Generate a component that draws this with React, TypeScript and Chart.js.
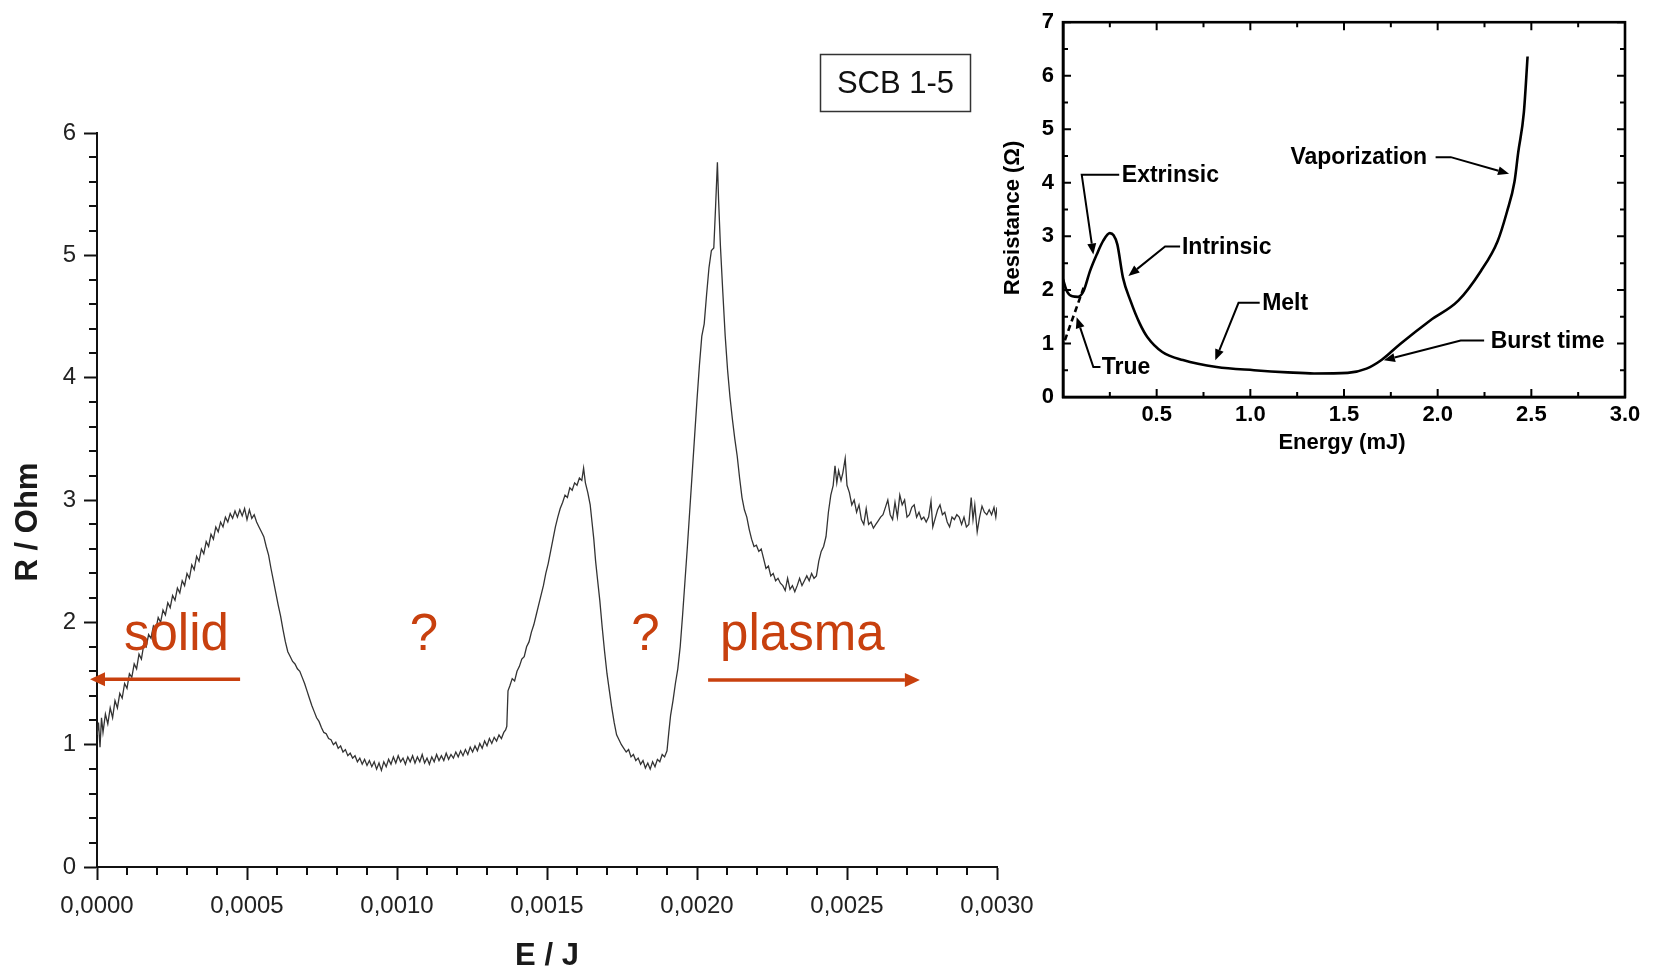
import React, { useEffect, useRef } from 'react';
import { Chart, registerables } from 'chart.js';

Chart.register(...registerables);

const FONT = "'Liberation Sans', Arial, Helvetica, sans-serif";
const RED = '#c8400e';

// ---------- Main chart data (E in µJ, R in Ohm) ----------
const E_UJ = [
  0, 5, 10, 15, 20, 28, 36, 44, 52, 60,
  68, 76, 84, 92, 100, 108, 116, 124, 132, 140,
  148, 156, 164, 172, 180, 188, 196, 204, 212, 220,
  228, 236, 244, 252, 260, 268, 276, 284, 292, 300,
  308, 316, 324, 332, 340, 348, 356, 364, 372, 380,
  388, 396, 404, 412, 420, 428, 436, 444, 452, 460,
  468, 476, 484, 492, 500, 508, 516, 524, 532, 540,
  548, 556, 564, 572, 580, 588, 596, 604, 612, 620,
  628, 636, 644, 652, 660, 668, 676, 684, 692, 700,
  708, 716, 724, 732, 740, 748, 756, 764, 772, 780,
  788, 796, 804, 812, 820, 828, 836, 844, 852, 860,
  868, 876, 884, 892, 900, 908, 916, 924, 932, 940,
  948, 956, 964, 972, 980, 988, 996, 1004, 1012, 1020,
  1028, 1036, 1044, 1052, 1060, 1068, 1076, 1084, 1092, 1100,
  1108, 1116, 1124, 1132, 1140, 1148, 1156, 1164, 1172, 1180,
  1188, 1196, 1204, 1212, 1220, 1228, 1236, 1244, 1252, 1260,
  1268, 1276, 1284, 1292, 1300, 1308, 1316, 1324, 1332, 1340,
  1348, 1356, 1362, 1366, 1370, 1376, 1384, 1392, 1400, 1408,
  1416, 1424, 1432, 1440, 1448, 1456, 1464, 1472, 1480, 1488,
  1496, 1504, 1512, 1520, 1528, 1536, 1544, 1552, 1560, 1568,
  1576, 1584, 1592, 1600, 1608, 1616, 1622, 1628, 1636, 1644,
  1650, 1656, 1662, 1668, 1676, 1684, 1692, 1700, 1708, 1716,
  1724, 1732, 1740, 1748, 1756, 1764, 1772, 1780, 1788, 1796,
  1804, 1812, 1820, 1828, 1836, 1844, 1852, 1860, 1868, 1876,
  1884, 1892, 1900, 1906, 1912, 1920, 1928, 1936, 1944, 1952,
  1960, 1968, 1976, 1984, 1992, 2000, 2008, 2016, 2024, 2032,
  2040, 2048, 2056, 2062, 2068, 2072, 2078, 2086, 2094, 2102,
  2110, 2118, 2126, 2134, 2142, 2150, 2158, 2166, 2174, 2182,
  2190, 2198, 2206, 2214, 2222, 2230, 2238, 2246, 2254, 2262,
  2270, 2278, 2286, 2294, 2302, 2310, 2318, 2326, 2334, 2342,
  2350, 2358, 2366, 2374, 2382, 2390, 2398, 2406, 2414, 2422,
  2430, 2438, 2446, 2454, 2460, 2466, 2472, 2480, 2486, 2494,
  2500, 2508, 2516, 2524, 2532, 2540, 2548, 2556, 2564, 2572,
  2580, 2588, 2596, 2604, 2612, 2620, 2628, 2636, 2644, 2652,
  2660, 2668, 2676, 2684, 2692, 2700, 2708, 2716, 2724, 2732,
  2740, 2748, 2756, 2764, 2772, 2780, 2786, 2794, 2802, 2810,
  2818, 2826, 2834, 2842, 2850, 2858, 2866, 2874, 2882, 2890,
  2898, 2906, 2914, 2920, 2926, 2934, 2942, 2950, 2958, 2966,
  2974, 2982, 2990, 2996, 3000,
];

const R_OHM = [
  1.08, 1.18, 0.98, 1.22, 1.10, 1.25, 1.17, 1.30, 1.22, 1.36,
  1.30, 1.42, 1.38, 1.50, 1.46, 1.58, 1.55, 1.66, 1.62, 1.74,
  1.70, 1.82, 1.80, 1.90, 1.87, 1.97, 1.94, 2.04, 2.00, 2.10,
  2.06, 2.16, 2.12, 2.22, 2.18, 2.28, 2.24, 2.34, 2.30, 2.40,
  2.36, 2.47, 2.43, 2.54, 2.50, 2.60, 2.56, 2.66, 2.62, 2.72,
  2.68, 2.78, 2.74, 2.82, 2.78, 2.86, 2.82, 2.89, 2.85, 2.91,
  2.86, 2.92, 2.87, 2.93, 2.84, 2.92, 2.85, 2.88, 2.82, 2.78,
  2.74, 2.70, 2.62, 2.55, 2.44, 2.34, 2.24, 2.14, 2.05, 1.94,
  1.84, 1.76, 1.72, 1.68, 1.66, 1.62, 1.60, 1.55, 1.50, 1.44,
  1.38, 1.32, 1.27, 1.22, 1.19, 1.14, 1.10, 1.09, 1.05, 1.04,
  1.00, 1.02, 0.97, 0.99, 0.94, 0.96, 0.91, 0.93, 0.89, 0.91,
  0.86, 0.89, 0.84, 0.88, 0.83, 0.87, 0.82, 0.86, 0.80, 0.85,
  0.79, 0.86, 0.82, 0.88, 0.84, 0.90, 0.85, 0.91, 0.86, 0.89,
  0.84, 0.90, 0.86, 0.91, 0.85, 0.90, 0.86, 0.92, 0.85, 0.89,
  0.84, 0.90, 0.86, 0.92, 0.87, 0.91, 0.87, 0.93, 0.88, 0.92,
  0.89, 0.94, 0.90, 0.95, 0.91, 0.96, 0.92, 0.98, 0.94, 0.99,
  0.95, 1.01, 0.97, 1.03, 0.99, 1.05, 1.01, 1.06, 1.03, 1.08,
  1.05, 1.10, 1.12, 1.15, 1.44, 1.48, 1.54, 1.52, 1.60, 1.64,
  1.70, 1.72, 1.80, 1.84, 1.92, 1.98, 2.06, 2.14, 2.22, 2.30,
  2.40, 2.48, 2.58, 2.68, 2.78, 2.86, 2.93, 2.98, 3.04, 3.02,
  3.10, 3.08, 3.14, 3.12, 3.18, 3.16, 3.26, 3.14, 3.06, 2.96,
  2.82, 2.68, 2.50, 2.36, 2.18, 1.96, 1.76, 1.58, 1.44, 1.30,
  1.18, 1.08, 1.04, 1.00, 0.97, 0.94, 0.96, 0.90, 0.92, 0.87,
  0.89, 0.84, 0.87, 0.81, 0.85, 0.80, 0.86, 0.82, 0.88, 0.86,
  0.92, 0.90, 0.95, 1.10, 1.24, 1.36, 1.50, 1.62, 1.80, 2.06,
  2.34, 2.62, 2.92, 3.22, 3.52, 3.82, 4.10, 4.34, 4.44, 4.68,
  4.90, 5.04, 5.06, 5.40, 5.76, 5.45, 5.08, 4.70, 4.34, 4.06,
  3.84, 3.66, 3.50, 3.36, 3.18, 3.02, 2.92, 2.86, 2.76, 2.68,
  2.62, 2.63, 2.58, 2.60, 2.52, 2.44, 2.46, 2.38, 2.40, 2.34,
  2.36, 2.32, 2.30, 2.26, 2.36, 2.27, 2.30, 2.25, 2.30, 2.36,
  2.30, 2.34, 2.38, 2.34, 2.40, 2.36, 2.38, 2.50, 2.58, 2.62,
  2.70, 2.90, 3.04, 3.12, 3.28, 3.14, 3.24, 3.16, 3.22, 3.34,
  3.12, 3.06, 2.96, 3.00, 2.90, 2.96, 2.84, 2.80, 2.93, 2.80,
  2.82, 2.77, 2.80, 2.83, 2.86, 2.88, 2.94, 3.00, 2.88, 2.84,
  2.98, 2.86, 3.04, 2.96, 3.00, 2.86, 2.88, 2.94, 2.96, 2.86,
  2.90, 2.84, 2.86, 2.82, 2.86, 2.99, 2.78, 2.85, 2.92, 2.96,
  2.88, 2.90, 2.82, 2.78, 2.86, 2.84, 2.88, 2.86, 2.80, 2.86,
  2.78, 2.80, 3.02, 2.84, 2.96, 2.74, 2.86, 2.95, 2.90, 2.88,
  2.92, 2.88, 2.94, 2.86, 2.94,
];

const MAIN_X_TICK_STEP = 0.0005;
const MAIN_Y_TICK_STEP = 1;

// ---------- Inset chart data (Energy mJ, Resistance Ohm) ----------
const INSET_E_MJ = [
  0.0, 0.02, 0.05, 0.08, 0.11, 0.144, 0.18, 0.215, 0.25, 0.27,
  0.29, 0.32, 0.36, 0.41, 0.45, 0.53, 0.64, 0.82, 1.02, 1.2,
  1.34, 1.52, 1.62, 1.7, 1.8, 1.96, 2.11, 2.23, 2.32, 2.37,
  2.41, 2.43, 2.46, 2.48,
];
const INSET_R = [
  2.2, 1.98, 1.88, 1.87, 1.98, 2.35, 2.66, 2.92, 3.06, 3.02,
  2.85, 2.23, 1.8, 1.37, 1.12, 0.84, 0.69, 0.56, 0.5, 0.46,
  0.44, 0.45, 0.53, 0.69, 0.99, 1.43, 1.8, 2.35, 2.91, 3.46,
  4.02, 4.57, 5.31, 6.36,
];
const INSET_TRUE_E = [0.01, 0.11];
const INSET_TRUE_R = [1.06, 2.04];

// annotation texts (positions in data coordinates)
const MAIN_LABELS = [
  { text: 'solid', x: 0.00009, y: 1.774, align: 'left' },
  { text: '?', x: 0.00109, y: 1.774, align: 'center' },
  { text: '?', x: 0.001828, y: 1.774, align: 'center' },
  { text: 'plasma', x: 0.002077, y: 1.774, align: 'left' },
];
const MAIN_ARROWS = [
  { from: [0.000477, 1.535], to: [-0.0000233, 1.535] },
  { from: [0.002037, 1.529], to: [0.002743, 1.529] },
];

const INSET_NOTES = [
  { text: 'Extrinsic', x: 0.314, y: 4.15, path: [[0.3, 4.15], [0.1, 4.15], [0.162, 2.66]] },
  { text: 'Intrinsic', x: 0.635, y: 2.81, path: [[0.625, 2.81], [0.545, 2.81], [0.349, 2.26]] },
  { text: 'Melt', x: 1.063, y: 1.76, path: [[1.05, 1.76], [0.937, 1.76], [0.813, 0.685]] },
  { text: 'True', x: 0.207, y: 0.56, path: [[0.2, 0.56], [0.162, 0.56], [0.073, 1.49]] },
  { text: 'Vaporization', x: 1.214, y: 4.48, path: [[1.989, 4.48], [2.07, 4.48], [2.381, 4.17]] },
  { text: 'Burst time', x: 2.283, y: 1.056, path: [[2.248, 1.056], [2.123, 1.056], [1.713, 0.685]] },
];

function drawArrowHead(ctx: any, fx: number, fy: number, tx: number, ty: number, len: number, half: number) {
  const ang = Math.atan2(ty - fy, tx - fx);
  const bx = tx - len * Math.cos(ang);
  const by = ty - len * Math.sin(ang);
  ctx.beginPath();
  ctx.moveTo(tx, ty);
  ctx.lineTo(bx + half * Math.sin(ang), by - half * Math.cos(ang));
  ctx.lineTo(bx - half * Math.sin(ang), by + half * Math.cos(ang));
  ctx.closePath();
  ctx.fill();
  return [bx, by];
}

const mainDecor = {
  id: 'mainDecor',
  afterDraw(chart: any) {
    const { ctx, chartArea } = chart;
    const x = chart.scales.x;
    const y = chart.scales.y;
    ctx.save();
    // minor ticks
    ctx.strokeStyle = '#111';
    ctx.lineWidth = 2;
    for (let i = 0; i <= 30; i++) {
      if (i % 5 === 0) continue;
      const py = Math.round(y.getPixelForValue(i * 0.2));
      ctx.beginPath();
      ctx.moveTo(chartArea.left - 8, py);
      ctx.lineTo(chartArea.left, py);
      ctx.stroke();
      const px = Math.round(x.getPixelForValue(i * 0.0001));
      ctx.beginPath();
      ctx.moveTo(px, chartArea.bottom);
      ctx.lineTo(px, chartArea.bottom + 8);
      ctx.stroke();
    }
    // axis titles
    ctx.fillStyle = '#1a1a1a';
    ctx.font = `bold 31px ${FONT}`;
    ctx.textAlign = 'center';
    ctx.textBaseline = 'middle';
    ctx.fillText('E / J', (chartArea.left + chartArea.right) / 2, 956);
    ctx.save();
    ctx.translate(28, 522);
    ctx.rotate(-Math.PI / 2);
    ctx.fillText('R / Ohm', 0, 0);
    ctx.restore();
    // SCB box
    ctx.strokeStyle = '#333';
    ctx.lineWidth = 1.5;
    ctx.strokeRect(820.5, 54.5, 150, 57);
    ctx.fillStyle = '#111';
    ctx.font = `31px ${FONT}`;
    ctx.fillText('SCB 1-5', 895.5, 84);
    // red annotations
    ctx.fillStyle = RED;
    ctx.strokeStyle = RED;
    ctx.font = `51px ${FONT}`;
    ctx.textBaseline = 'alphabetic';
    for (const l of MAIN_LABELS) {
      ctx.textAlign = l.align;
      ctx.fillText(l.text, x.getPixelForValue(l.x), y.getPixelForValue(l.y));
    }
    ctx.lineWidth = 3.5;
    for (const a of MAIN_ARROWS) {
      const fx = x.getPixelForValue(a.from[0]);
      const fy = y.getPixelForValue(a.from[1]);
      const tx = x.getPixelForValue(a.to[0]);
      const ty = y.getPixelForValue(a.to[1]);
      const [bx, by] = drawArrowHead(ctx, fx, fy, tx, ty, 15, 7);
      ctx.beginPath();
      ctx.moveTo(fx, fy);
      ctx.lineTo(bx, by);
      ctx.stroke();
    }
    ctx.restore();
  },
};

const insetDecor = {
  id: 'insetDecor',
  afterDraw(chart: any) {
    const { ctx, chartArea } = chart;
    const { left, right, top, bottom } = chartArea;
    const x = chart.scales.x;
    const y = chart.scales.y;
    ctx.save();
    ctx.strokeStyle = '#000';
    ctx.lineWidth = 2.6;
    ctx.strokeRect(left, top, right - left, bottom - top);
    ctx.lineWidth = 2;
    for (let i = 0; i <= 14; i++) {
      const py = y.getPixelForValue(i * 0.5);
      const len = i % 2 === 0 ? 8 : 5;
      ctx.beginPath();
      ctx.moveTo(left, py); ctx.lineTo(left + len, py);
      ctx.moveTo(right, py); ctx.lineTo(right - len, py);
      ctx.stroke();
    }
    for (let i = 0; i <= 12; i++) {
      const px = x.getPixelForValue(i * 0.25);
      const len = i % 2 === 0 ? 8 : 5;
      ctx.beginPath();
      ctx.moveTo(px, bottom); ctx.lineTo(px, bottom - len);
      ctx.moveTo(px, top); ctx.lineTo(px, top + len);
      ctx.stroke();
    }
    // titles
    ctx.fillStyle = '#000';
    ctx.font = `bold 22px ${FONT}`;
    ctx.textAlign = 'center';
    ctx.textBaseline = 'middle';
    ctx.fillText('Energy (mJ)', (left + right) / 2 - 2, 443);
    ctx.save();
    ctx.translate(23, 218);
    ctx.rotate(-Math.PI / 2);
    ctx.fillText('Resistance (\u03A9)', 0, 0);
    ctx.restore();
    // notes
    ctx.font = `bold 23px ${FONT}`;
    ctx.textAlign = 'left';
    ctx.lineWidth = 2;
    for (const n of INSET_NOTES) {
      ctx.fillText(n.text, x.getPixelForValue(n.x), y.getPixelForValue(n.y) + 1);
      const pts = n.path.map((p) => [x.getPixelForValue(p[0]), y.getPixelForValue(p[1])]);
      const k = pts.length - 1;
      const [bx, by] = drawArrowHead(ctx, pts[k - 1][0], pts[k - 1][1], pts[k][0], pts[k][1], 11, 4.5);
      ctx.beginPath();
      ctx.moveTo(pts[0][0], pts[0][1]);
      for (let i = 1; i < k; i++) ctx.lineTo(pts[i][0], pts[i][1]);
      ctx.lineTo(bx, by);
      ctx.stroke();
    }
    ctx.restore();
  },
};

export default function App() {
  const mainRef = useRef<HTMLCanvasElement | null>(null);
  const insetRef = useRef<HTMLCanvasElement | null>(null);

  useEffect(() => {
    document.body.style.margin = '0';
    const main = new Chart(mainRef.current as HTMLCanvasElement, {
      type: 'line',
      data: {
        datasets: [
          {
            data: E_UJ.map((e, i) => ({ x: e * 1e-6, y: R_OHM[i] })),
            borderColor: '#333333',
            borderWidth: 1.3,
            pointRadius: 0,
            tension: 0,
          },
        ],
      },
      options: {
        animation: false,
        responsive: false,
        maintainAspectRatio: false,
        layout: { padding: { left: 0, top: 133, right: 657, bottom: 0 } },
        plugins: { legend: { display: false }, tooltip: { enabled: false } },
        scales: {
          x: {
            type: 'linear',
            min: 0,
            max: 0.003,
            ticks: {
              stepSize: MAIN_X_TICK_STEP,
              autoSkip: false,
              maxRotation: 0,
              padding: 12,
              color: '#222',
              font: { family: FONT, size: 24 },
              callback: (v: any) => Number(v).toFixed(4).replace('.', ','),
            },
            grid: { drawOnChartArea: false, drawTicks: true, tickLength: 13, tickWidth: 2, tickColor: '#111' },
            border: { color: '#111', width: 2 },
            afterFit: (s: any) => { s.height = 103; },
          },
          y: {
            type: 'linear',
            min: 0,
            max: 6,
            ticks: {
              stepSize: MAIN_Y_TICK_STEP,
              padding: 8,
              color: '#222',
              font: { family: FONT, size: 24 },
            },
            grid: { drawOnChartArea: false, drawTicks: true, tickLength: 13, tickWidth: 2, tickColor: '#111' },
            border: { color: '#111', width: 2 },
            afterFit: (s: any) => { s.width = 97; },
          },
        },
      },
      plugins: [mainDecor],
    } as any);

    const inset = new Chart(insetRef.current as HTMLCanvasElement, {
      type: 'line',
      data: {
        datasets: [
          {
            data: INSET_E_MJ.map((e, i) => ({ x: e, y: INSET_R[i] })),
            borderColor: '#000',
            borderWidth: 2.6,
            pointRadius: 0,
            cubicInterpolationMode: 'monotone',
          },
          {
            data: INSET_TRUE_E.map((e, i) => ({ x: e, y: INSET_TRUE_R[i] })),
            borderColor: '#000',
            borderWidth: 2.6,
            borderDash: [6, 4],
            pointRadius: 0,
          },
        ],
      },
      options: {
        animation: false,
        responsive: false,
        maintainAspectRatio: false,
        layout: { padding: { left: 0, top: 17, right: 29, bottom: 0 } },
        plugins: { legend: { display: false }, tooltip: { enabled: false } },
        scales: {
          x: {
            type: 'linear',
            min: 0,
            max: 3,
            ticks: {
              stepSize: 0.5,
              autoSkip: false,
              maxRotation: 0,
              padding: 5,
              color: '#000',
              font: { family: FONT, size: 22, weight: 'bold' },
              callback: (v: any) => (Number(v) === 0 ? '' : Number(v).toFixed(1)),
            },
            grid: { drawOnChartArea: false, drawTicks: false },
            border: { color: '#000', width: 2.6 },
            afterFit: (s: any) => { s.height = 63; },
          },
          y: {
            type: 'linear',
            min: 0,
            max: 7,
            ticks: {
              stepSize: 1,
              padding: 9,
              color: '#000',
              font: { family: FONT, size: 22, weight: 'bold' },
            },
            grid: { drawOnChartArea: false, drawTicks: false },
            border: { color: '#000', width: 2.6 },
            afterFit: (s: any) => { s.width = 73; },
          },
        },
      },
      plugins: [insetDecor],
    } as any);

    return () => {
      main.destroy();
      inset.destroy();
    };
  }, []);

  return (
    <div style={{ position: 'fixed', left: 0, top: 0, width: 1654, height: 970, background: '#fff', overflow: 'hidden' }}>
      <canvas ref={mainRef} width={1654} height={970} style={{ position: 'absolute', left: 0, top: 0, width: 1654, height: 970 }} />
      <canvas ref={insetRef} width={664} height={460} style={{ position: 'absolute', left: 990, top: 0, width: 664, height: 460 }} />
    </div>
  );
}
